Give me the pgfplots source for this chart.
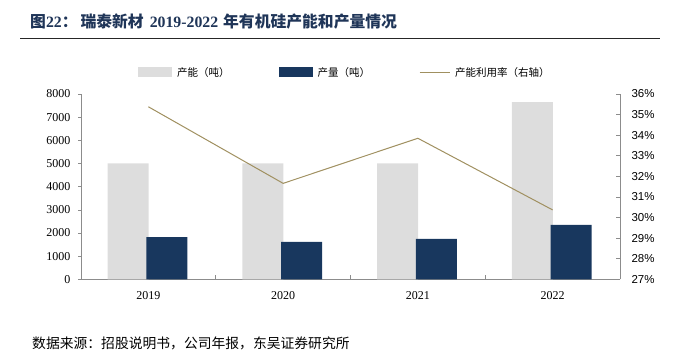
\documentclass[border=0pt]{standalone}
\usepackage{fontspec}
\usepackage{pgfplots}
\pgfplotsset{compat=1.18}
\setmainfont{Liberation Serif}
\newfontfamily\cjk{Noto Sans CJK SC}
\newfontfamily\arial{Liberation Sans}
\definecolor{capgray}{HTML}{DDDDDD}
\definecolor{navy}{HTML}{18375E}
\definecolor{olive}{HTML}{A09060}
\definecolor{axgray}{HTML}{8C8C8C}
\definecolor{titleblue}{HTML}{1F3558}
\begin{document}
\begin{tikzpicture}[x=1pt,y=1pt]
\useasboundingbox (0,0) rectangle (674,356);
\node[anchor=west, text=titleblue, inner sep=0pt] at (30,334)
  {\fontsize{15.8}{18}\selectfont{\cjk\bfseries 图}{\bfseries 22}{\cjk\bfseries ：}\hspace{3pt}{\cjk\bfseries 瑞泰新材}\hspace{2pt} {\bfseries 2019-2022} \hspace{1pt}{\cjk\bfseries 年有机硅产能和产量情况}};
\draw[line width=1.3pt, color=black!85] (20,317.5) -- (660,317.5);
\node[anchor=west, inner sep=0pt] at (32,13)
  {\fontsize{13.8}{16}\selectfont\cjk 数据来源：招股说明书，公司年报，东吴证券研究所};

\begin{axis}[
  at={(81pt,76.7pt)}, anchor=south west, scale only axis,
  width=539pt, height=185.3pt,
  xmin=-0.5, xmax=3.5, ymin=0, ymax=8000,
  axis x line*=bottom, axis y line*=left,
  axis line style={-, axgray, line width=0.8pt},
  xtick={0,1,2,3}, xticklabels={2019,2020,2021,2022},
  major x tick style={draw=none},
  minor xtick={0.5,1.5,2.5}, minor x tick style={axgray, line width=0.6pt, yshift=4pt},
  minor tick length=4pt,
  ytick={0,1000,...,8000}, tick align=outside, major tick length=3pt,
  y tick style={axgray, line width=0.6pt},
  xticklabel style={font=\fontsize{12}{14}\selectfont, yshift=-6pt},
  yticklabel style={font=\fontsize{12}{14}\selectfont, xshift=-4pt, /pgf/number format/assume math mode=true, /pgf/number format/1000 sep={}},
  legend columns=3,
  legend style={at={(0.1002,1.117)}, anchor=west, draw=none, fill=none,
    font=\fontsize{10.5}{12}\selectfont\cjk,
    /tikz/every odd column/.style={column sep=3pt},
    /tikz/every even column/.style={column sep=47pt}},
]
\addplot[ybar, bar width=0.304, bar shift=-0.151, fill=capgray, draw=none,
  legend image code/.code={\fill[capgray] (0pt,-5pt) rectangle (34pt,5pt);}]
  coordinates {(0,5000) (1,5000) (2,5000) (3,7650)};
\addlegendentry{产能（吨）}
\addplot[ybar, bar width=0.304, bar shift=0.137, fill=navy, draw=none,
  legend image code/.code={\fill[navy] (0pt,-5pt) rectangle (34pt,5pt);}]
  coordinates {(0,1825) (1,1620) (2,1740) (3,2345)};
\addlegendentry{产量（吨）}
\addlegendimage{legend image code/.code={\draw[olive, line width=1pt] (0pt,0pt) -- (30pt,0pt);}}
\addlegendentry{产能利用率（右轴）}
\end{axis}

\begin{axis}[
  at={(81pt,76.7pt)}, anchor=south west, scale only axis,
  width=539pt, height=185.3pt,
  xmin=-0.5, xmax=3.5, ymin=27, ymax=36,
  axis y line*=right, axis x line=none,
  axis line style={-, axgray, line width=0.8pt},
  ytick={27,28,...,36},
  yticklabels={27\%,28\%,29\%,30\%,31\%,32\%,33\%,34\%,35\%,36\%},
  tick align=inside, major tick length=4pt,
  y tick style={axgray, line width=0.6pt},
  yticklabel style={font=\arial\fontsize{11.5}{13}\selectfont, xshift=8pt},
]
\addplot[olive, line width=1pt, mark=none]
  coordinates {(0,35.38) (1,31.66) (2,33.85) (3,30.37)};
\end{axis}
\end{tikzpicture}
\end{document}
